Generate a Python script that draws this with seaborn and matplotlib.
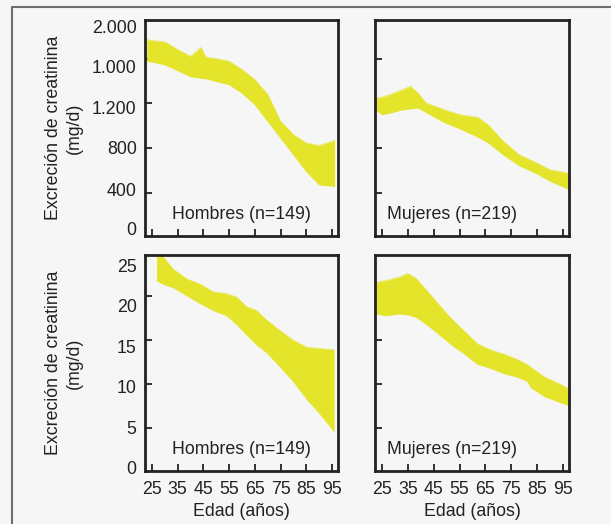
import seaborn as sns
import matplotlib.pyplot as plt
import matplotlib.lines as mlines
import pandas as pd
import numpy as np

# bandas: edad, limite inferior, limite superior
# mg/d, hombres
edad_h_mg = [23, 25, 30, 35, 40, 44, 46, 50, 55, 60, 65, 70, 75, 80, 85, 90, 96]
inf_h_mg = [1576, 1570, 1546, 1493, 1439, 1425, 1421, 1397, 1367, 1293, 1188, 1039, 890, 741, 591, 472, 460]
sup_h_mg = [1770, 1761, 1750, 1681, 1620, 1700, 1612, 1600, 1576, 1502, 1412, 1278, 1039, 920, 845, 824, 870]

# mg/d, mujeres
edad_m_mg = [22.7, 25, 28, 33, 36, 39, 42, 49, 55, 62, 66, 72, 78, 85, 90, 97]
inf_m_mg = [1144, 1099, 1114, 1144, 1152, 1159, 1120, 1030, 975, 900, 850, 740, 645, 570, 505, 435]
sup_m_mg = [1248, 1255, 1278, 1323, 1352, 1290, 1204, 1144, 1099, 1075, 1009, 860, 741, 666, 606, 577]

# mg/kg/d, hombres
edad_h_kg = [26.8, 29.3, 33.2, 38.4, 43.6, 48.8, 54, 57.9, 61.8, 65.6, 69.5, 74.7, 79.9, 85.1, 90.3, 95.8]
inf_h_kg = [21.8, 21.4, 21.0, 20.1, 19.2, 18.4, 17.8, 16.8, 15.6, 14.5, 13.6, 12.0, 10.3, 8.3, 6.6, 4.6]
sup_h_kg = [25.5, 24.5, 23.1, 22.0, 21.4, 20.5, 20.3, 19.9, 18.8, 18.4, 17.3, 16.1, 15.0, 14.2, 14.05, 13.9]

# mg/kg/d, mujeres
edad_m_kg = [22.7, 26.6, 31.8, 35, 38.3, 42.2, 46.1, 51.3, 56.6, 61.8, 67, 72.2, 77.4, 81.3, 82.6, 87.8, 93.1, 97]
inf_m_kg = [18.0, 17.8, 18.0, 17.9, 17.6, 16.8, 15.9, 14.6, 13.5, 12.3, 11.8, 11.2, 10.8, 10.3, 9.6, 8.6, 8.0, 7.6]
sup_m_kg = [21.6, 21.8, 22.2, 22.6, 22.0, 20.7, 19.35, 17.6, 16.1, 14.6, 13.9, 13.4, 12.8, 12.2, 11.9, 10.8, 10.1, 9.5]

x_ticks = [25, 35, 45, 55, 65, 75, 85, 95]
ytick_mg = [400, 800, 1200, 1600]
ylab_mg_pos = [78, 427, 803, 1161, 1528, 1887]
ylab_mg = ['0', '400', '800', '1.200', '1.000', '2.000']
ytick_kg = [5, 10, 15, 20]
ylab_kg_pos = [0.46, 5.11, 9.77, 14.3, 18.98, 23.5]
ylab_kg = ['0', '5', '10', '15', '20', '25']

amarillo = '#e4e42a'
fondo = '#f6f6f6'
tinta = '#222222'
fs = 12.8

sns.set_theme(style='white', rc={'axes.facecolor': fondo, 'figure.facecolor': fondo})
plt.rcParams['font.family'] = ['Liberation Sans', 'DejaVu Sans']

fig = plt.figure(figsize=(6.11, 5.24), dpi=100)

paneles = [
    ([0.2373, 0.5496, 0.3159, 0.4122], edad_h_mg, inf_h_mg, sup_h_mg, 'Hombres (n=149)', 'mg', 'L', False),
    ([0.6137, 0.5496, 0.3175, 0.4122], edad_m_mg, inf_m_mg, sup_m_mg, 'Mujeres (n=219)', 'mg', 'R', False),
    ([0.2373, 0.1011, 0.3159, 0.4122], edad_h_kg, inf_h_kg, sup_h_kg, 'Hombres (n=149)', 'kg', 'L', True),
    ([0.6137, 0.1011, 0.3175, 0.4122], edad_m_kg, inf_m_kg, sup_m_kg, 'Mujeres (n=219)', 'kg', 'R', True),
]

for rect, edad, inf, sup, titulo, unidad, lado, abajo in paneles:
    ax = fig.add_axes(rect)
    df = pd.DataFrame({'edad': edad, 'inf': inf, 'sup': sup})
    ax.fill_between(df['edad'], df['inf'], df['sup'], color=amarillo, lw=0)
    sns.lineplot(data=df, x='edad', y='inf', ax=ax, color=amarillo, lw=0.8, alpha=0.6)
    sns.lineplot(data=df, x='edad', y='sup', ax=ax, color=amarillo, lw=0.8, alpha=0.6)
    ax.set_xlim(22.3, 97.3)
    if unidad == 'mg':
        ax.set_ylim(15, 1945)
        ax.set_yticks(ytick_mg, minor=True)
        ax.set_yticks(ylab_mg_pos)
        etiquetas = ylab_mg
    else:
        ax.set_ylim(0.1, 24.7)
        ax.set_yticks(ytick_kg, minor=True)
        ax.set_yticks(ylab_kg_pos)
        etiquetas = ylab_kg
    if lado == 'L':
        ax.set_yticklabels(etiquetas, fontsize=fs, color=tinta)
    else:
        ax.set_yticklabels([])
    ax.set_xticks(x_ticks)
    if abajo:
        ax.set_xticklabels([str(t) for t in x_ticks], fontsize=fs, color=tinta)
        ax.set_xlabel('Edad (años)', fontsize=fs, color=tinta, labelpad=4)
    else:
        ax.set_xticklabels([])
        ax.set_xlabel('')
    ax.set_ylabel('')
    ax.tick_params(axis='y', which='major', length=0, pad=6)
    ax.tick_params(axis='y', which='minor', direction='in', length=5, width=1.3, color=tinta, left=True)
    ax.tick_params(axis='x', which='major', direction='in', length=5, width=1.3, color=tinta, bottom=True, pad=7)
    for s in ax.spines.values():
        s.set_color(tinta)
        s.set_linewidth(2)
    if lado == 'L':
        ax.text(0.5, 0.06, titulo, transform=ax.transAxes, ha='center', va='bottom', fontsize=fs, color=tinta)
    else:
        ax.text(0.06, 0.06, titulo, transform=ax.transAxes, ha='left', va='bottom', fontsize=fs, color=tinta)

for yc in [0.5496 + 0.4122 / 2, 0.1011 + 0.4122 / 2]:
    fig.text(64 / 611, yc, 'Excreción de creatinina\n(mg/d)', rotation=90, ha='center', va='center',
             fontsize=fs, color=tinta, linespacing=1.25, multialignment='center')

# marco gris arriba y a la izquierda
fig.add_artist(mlines.Line2D([12 / 611, 1], [1 - 7 / 524, 1 - 7 / 524], color='#6e6e6e', lw=1.5))
fig.add_artist(mlines.Line2D([12 / 611, 12 / 611], [0, 1 - 7 / 524], color='#6e6e6e', lw=1.5))

fig.savefig('out.png', dpi=100, facecolor=fondo)
